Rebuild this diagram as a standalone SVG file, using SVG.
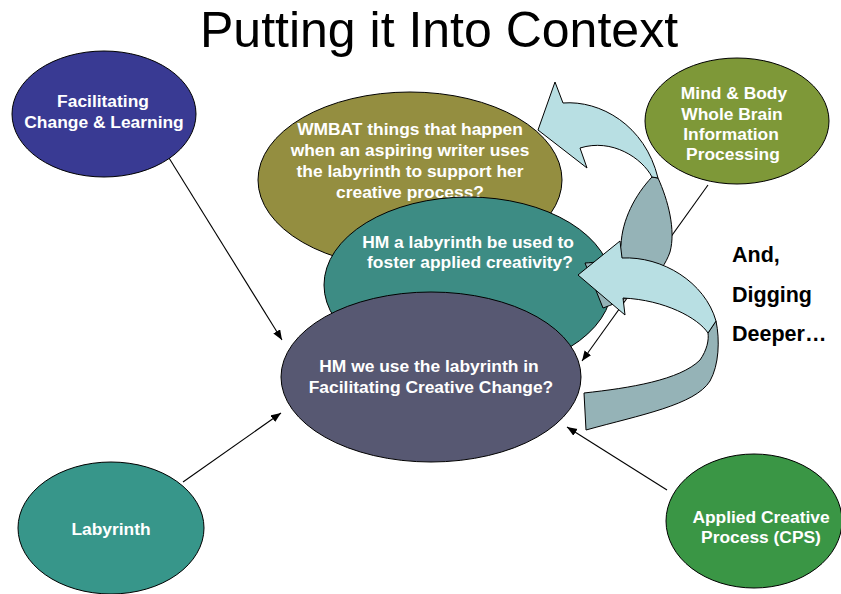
<svg xmlns="http://www.w3.org/2000/svg" width="841" height="594" viewBox="0 0 841 594">
<style>
.nd{stroke:#000;stroke-width:1}
.nt{font-family:"Liberation Sans",Arial,sans-serif;font-weight:bold;font-size:17.4px;fill:#fff;text-anchor:middle}
.cn{stroke:#000;stroke-width:1.1;fill:none;marker-end:url(#ah)}
.lt{fill:#B8DFE3;stroke:#000;stroke-width:1;stroke-linejoin:round}
.dk{fill:#95B3B7;stroke:#000;stroke-width:1;stroke-linejoin:round}
.side{font-family:"Liberation Sans",Arial,sans-serif;font-weight:bold;font-size:21.5px;fill:#000}
</style>
<defs>
<marker id="ah" markerUnits="userSpaceOnUse" markerWidth="11" markerHeight="9" refX="10" refY="4" orient="auto">
<path d="M0,0 L10,4 L0,8 Z" fill="#000"/>
</marker>
</defs>
<rect width="841" height="594" fill="#fff"/>
<text x="439" y="47" font-family="Liberation Sans,Arial,sans-serif" font-size="50" text-anchor="middle" fill="#000">Putting it Into Context</text>

<g id="connectors">
<line class="cn" x1="169" y1="158" x2="282" y2="340"/>
<line class="cn" x1="183" y1="482" x2="281" y2="413"/>
<line class="cn" x1="667" y1="490" x2="567" y2="427"/>
<line class="cn" x1="708" y1="185" x2="582" y2="361"/>
</g>

<g id="facilitating">
<ellipse class="nd" cx="104" cy="114" rx="92" ry="63" fill="#393A93"/>
<text class="nt" x="103" y="107">Facilitating</text>
<text class="nt" x="104" y="128">Change &amp; Learning</text>
</g>

<g id="wmbat">
<ellipse class="nd" cx="410" cy="180" rx="152" ry="88" fill="#948E40"/>
<text class="nt" x="410" y="135">WMBAT things that happen</text>
<text class="nt" x="410" y="156">when an aspiring writer uses</text>
<text class="nt" x="410" y="177">the labyrinth to support her</text>
<text class="nt" x="410" y="198">creative process?</text>
</g>

<g id="hm-foster">
<ellipse class="nd" cx="468" cy="285" rx="144" ry="88" fill="#3D8C84"/>
<text class="nt" x="468" y="248">HM a labyrinth be used to</text>
<text class="nt" x="470" y="268">foster applied creativity?</text>
</g>

<g id="hm-center">
<ellipse class="nd" cx="431" cy="377" rx="150" ry="85" fill="#575872"/>
<text class="nt" x="429" y="372">HM we use the labyrinth in</text>
<text class="nt" x="431" y="393">Facilitating Creative Change?</text>
</g>

<g id="mind-body">
<ellipse class="nd" cx="737" cy="121" rx="92" ry="63" fill="#7E9838"/>
<text class="nt" x="734" y="99">Mind &amp; Body</text>
<text class="nt" x="732" y="120">Whole Brain</text>
<text class="nt" x="731" y="140">Information</text>
<text class="nt" x="733" y="160">Processing</text>
</g>

<g id="labyrinth">
<ellipse class="nd" cx="111" cy="528" rx="93" ry="66" fill="#37968A"/>
<text class="nt" x="111" y="535">Labyrinth</text>
</g>

<g id="applied">
<ellipse class="nd" cx="754" cy="521" rx="88" ry="67" fill="#3A9645"/>
<text class="nt" x="761" y="523">Applied Creative</text>
<text class="nt" x="761" y="543">Process (CPS)</text>
</g>

<g id="curved-arrows">
<path class="dk" d="M658,178 C668,200 676,230 670,252 C662,275 640,295 603,308 L585,263 C605,262 619,258 621,245 C622,220 635,195 652,177 Z"/>
<path class="lt" d="M538,130 L555,82 L563,103 C600,100 645,125 658,178 L652,177 C642,158 612,138 580,148 L587,168 Z"/>
<path class="dk" d="M716,321 C720,340 719,365 710,381 C695,405 640,415 586,430 L584,393 C630,388 680,380 700,360 C707,350 709,340 708,333 Z"/>
<path class="lt" d="M578,275 L620,241 L622,258 C662,256 705,282 716,321 L708,333 C698,318 665,300 623,298 L625,315 Z"/>
</g>

<g id="side-text">
<text class="side" x="732" y="262">And,</text>
<text class="side" x="732" y="302">Digging</text>
<text class="side" x="732" y="341">Deeper…</text>
</g>
</svg>
